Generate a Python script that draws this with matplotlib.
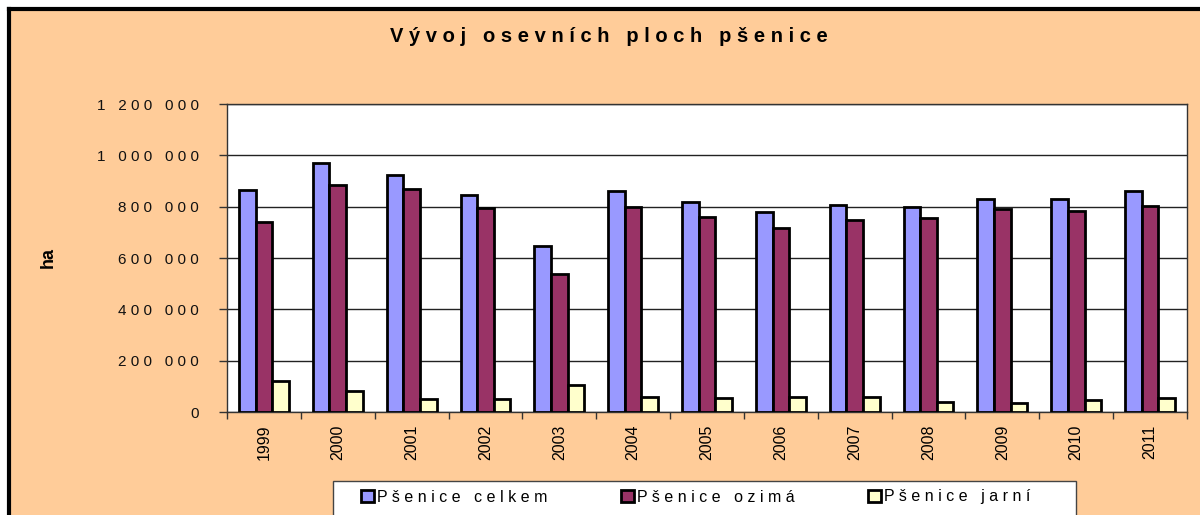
import numpy as np
import matplotlib.pyplot as plt
from matplotlib.lines import Line2D

plt.rcParams['font.family'] = ['Liberation Sans', 'DejaVu Sans']

# Data (ha)
years = ['1999', '2000', '2001', '2002', '2003', '2004', '2005',
         '2006', '2007', '2008', '2009', '2010', '2011']
celkem = [866000, 971000, 924000, 845000, 646000, 861000, 817000,
          778000, 808000, 799000, 828000, 831000, 860000]
ozima = [742000, 884000, 870000, 793000, 539000, 799000, 760000,
         717000, 748000, 757000, 790000, 782000, 803000]
jarni = [120000, 83000, 50000, 49000, 105000, 60000, 56000,
         60000, 58000, 39000, 35000, 45000, 53000]

series_names = ['Pšenice celkem', 'Pšenice ozimá', 'Pšenice jarní']
colors = ['#9999FF', '#993366', '#FFFFCC']
yticks = [0, 200000, 400000, 600000, 800000, 1000000, 1200000]
title = 'Vývoj osevních ploch pšenice'


def spaced(s):
    """Imitate the wide letter spacing of the original."""
    return ' '.join(s)


def fmt(v):
    return spaced(f'{v:,}'.replace(',', ' '))


bg = '#FFCC99'
fig = plt.figure(figsize=(12, 5.15), dpi=100, facecolor=bg)
ax = fig.add_axes([227 / 1200, 1 - 412 / 515, 960 / 1200, 308 / 515])
ax.set_facecolor('white')

x = np.arange(len(years))
w = 0.225
for k, (vals, c, name) in enumerate(zip([celkem, ozima, jarni], colors, series_names)):
    ax.bar(x + (k - 1) * w, vals, width=w, color=c, edgecolor='black',
           linewidth=2, label=spaced(name), zorder=3)

ax.set_xlim(-0.5, len(years) - 0.5)
ax.set_ylim(0, 1200000)
ax.set_yticks(yticks)
ax.set_yticklabels([fmt(v) for v in yticks], fontsize=11, color='#111111')
ax.yaxis.grid(True, color='#222222', linewidth=1, zorder=0)
ax.set_xticks(x)
ax.set_xticklabels(years, rotation=90, fontsize=11.5)
ax.tick_params(axis='x', length=0, pad=9)
ax.set_xticks(np.arange(len(years) + 1) - 0.5, minor=True)
ax.tick_params(axis='x', which='minor', length=5, width=1, color='#333333')
ax.tick_params(axis='y', length=6, width=1, color='#333333', pad=14)
for sp in ax.spines.values():
    sp.set_color('#333333')
    sp.set_linewidth(1)

ax.set_ylabel('ha', fontsize=13, fontweight='bold')
ax.yaxis.set_label_coords((57 - 227) / 960, 0.5)

fig.text(609 / 1200, 1 - 37 / 515, spaced(title), ha='center', va='center',
         fontsize=14.5, fontweight='bold')

# legend box (cut off at the bottom in the original)
fig.patches.append(plt.Rectangle((333 / 1200, -0.02), 743 / 1200, 0.02 + 34 / 515,
                                 transform=fig.transFigure, facecolor='white',
                                 edgecolor='#444444', linewidth=1))
leg = fig.legend(loc='center left', ncol=3,
                 bbox_to_anchor=(361 / 1200, 1 - 497 / 515),
                 fontsize=11.5, frameon=False, borderaxespad=0, borderpad=0,
                 handlelength=0.8, handleheight=0.8, handletextpad=0.2,
                 columnspacing=4.6)

# outer border (only left and top visible in the crop)
fig.add_artist(Line2D([9 / 1200, 9 / 1200], [0, 1 - 9 / 515], color='black',
                      linewidth=3, transform=fig.transFigure))
fig.add_artist(Line2D([9 / 1200, 1], [1 - 9 / 515, 1 - 9 / 515], color='black',
                      linewidth=3, transform=fig.transFigure))
fig.patches.append(plt.Rectangle((0, 0), 8 / 1200, 1, transform=fig.transFigure,
                                 color='white', zorder=-1))
fig.patches.append(plt.Rectangle((0, 1 - 8 / 515), 1, 8 / 515,
                                 transform=fig.transFigure, color='white', zorder=-1))

fig.savefig('out.png', dpi=100, facecolor=bg)
